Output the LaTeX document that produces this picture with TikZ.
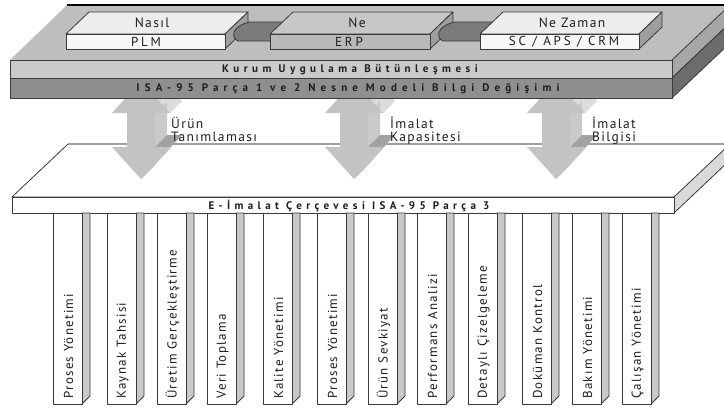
\documentclass[tikz,border=0pt]{standalone}
\usepackage{fontspec}
\setmainfont{PT Sans}
\newfontfamily\bandfont[LetterSpace=41]{PT Sans}
\newfontfamily\bandwidefont[LetterSpace=47]{PT Sans}
\newfontfamily\framefont[LetterSpace=40]{PT Sans}
\newfontfamily\labelfont[LetterSpace=10]{PT Sans}
\newfontfamily\slabfont[LetterSpace=22]{PT Sans}

\definecolor{platTop}{HTML}{BEBEBE}
\definecolor{bandA}{HTML}{CACACA}
\definecolor{bandB}{HTML}{8F8F8F}
\definecolor{sideA}{HTML}{A6A6A6}
\definecolor{sideB}{HTML}{6C6C6C}
\definecolor{boxLight}{HTML}{EDEDED}
\definecolor{boxLightFront}{HTML}{F6F6F6}
\definecolor{boxMid}{HTML}{C7C7C7}
\definecolor{boxMidFront}{HTML}{B9B9B9}
\definecolor{boxSide}{HTML}{9E9E9E}
\definecolor{linkGray}{HTML}{7B7B7B}
\definecolor{arrowFront}{HTML}{C3C3C3}
\definecolor{arrowLight}{HTML}{DCDCDC}
\definecolor{arrowDark}{HTML}{A2A2A2}
\definecolor{arrowMid}{HTML}{B4B4B4}
\definecolor{pillarSide}{HTML}{C9C9C9}
\definecolor{edge}{HTML}{3A3A3A}
\definecolor{inkDark}{HTML}{1E1E1E}

\tikzset{
  face/.style={draw=edge, line width=0.8pt, line join=round},
  bandtext/.style={inner sep=0pt, text=inkDark, font=\bandfont\bfseries\fontsize{11}{13}\selectfont},
  bandwide/.style={inner sep=0pt, text=inkDark, font=\bandwidefont\bfseries\fontsize{11}{13}\selectfont},
  frametext/.style={inner sep=0pt, text=inkDark, font=\framefont\bfseries\fontsize{11}{13}\selectfont},
  boxtop/.style={inner sep=0pt, text=inkDark, font=\labelfont\fontsize{13.5}{15}\selectfont},
  boxfront/.style={inner sep=0pt, text=inkDark, font=\slabfont\fontsize{13}{14}\selectfont},
  flowlabel/.style={inner sep=0pt, anchor=north west, align=left, text=inkDark,
    font=\labelfont\fontsize{13.5}{13}\selectfont},
  pillartext/.style={inner sep=0pt, anchor=west, rotate=90, text=inkDark,
    font=\labelfont\fontsize{13}{15}\selectfont},
}

% one hanging module of the framework: left edge, name, caption
\newcommand\pillar[3]{%
  \filldraw[face, fill=pillarSide] (#1+29,213) -- (#1+37,213) -- (#1+37,396) -- (#1+29,404) -- cycle;
  \filldraw[face, fill=white] (#1,213) rectangle (#1+29,404);
  \node[pillartext] (#2) at (#1+15.5,399) {#3};
}

% extruded double-headed block arrow centred on x = #1
\newcommand\blockarrow[1]{%
  \begin{scope}[shift={(#1,0)}]
    \fill[arrowLight] (0,81) -- (29,113) -- (41,101) -- (12,69) -- cycle;
    \fill[arrowLight!92!black] (14,113) -- (14,147) -- (26,135) -- (26,101) -- cycle;
    \fill[arrowMid] (29,147) -- (0,179) -- (12,167) -- (41,135) -- cycle;
    \fill[arrowDark] (14,147) -- (29,147) -- (41,135) -- (26,135) -- cycle;
    \fill[arrowFront] (0,81) -- (29,113) -- (14,113) -- (14,147) -- (29,147) -- (0,179)
      -- (-29,147) -- (-14,147) -- (-14,113) -- (-29,113) -- cycle;
  \end{scope}
}

\begin{document}
\begin{tikzpicture}[x=1pt, y=-1pt]
\useasboundingbox (0,0) rectangle (724,410);
\clip (0,0) rectangle (724,410);

% ---- lower platform: E-Manufacturing framework ----
\filldraw[face, fill=white] (12,197) -- (68,144) -- (740,144) -- (674,197) -- cycle;
\draw[gray!75, line width=1.3pt] (68,144) -- (740,144);
\filldraw[face, fill=pillarSide!70] (674,197) -- (730,144) -- (730,160) -- (674,213) -- cycle;
\filldraw[face, fill=white] (12,197) rectangle (674,213);
\node[frametext] (frame) at (349,205.5) {E-İmalat Çerçevesi ISA-95 Parça 3};

% ---- hanging modules ----
\pillar{53}{m1}{Proses Yönetimi}
\pillar{107}{m2}{Kaynak Tahsisi}
\pillar{157}{m3}{Üretim Gerçekleştirme}
\pillar{207}{m4}{Veri Toplama}
\pillar{263}{m5}{Kalite Yönetimi}
\pillar{317}{m6}{Proses Yönetimi}
\pillar{368}{m7}{Ürün Sevkiyat}
\pillar{417}{m8}{Performans Analizi}
\pillar{468}{m9}{Detaylı Çizelgeleme}
\pillar{522}{m10}{Doküman Kontrol}
\pillar{572}{m11}{Bakım Yönetimi}
\pillar{622}{m12}{Çalışan Yönetimi}

% ---- information flows between the two layers ----
\blockarrow{141}
\blockarrow{354}
\blockarrow{556}
\node[flowlabel] (flow1) at (171,116.5) {Ürün\\Tanımlaması};
\node[flowlabel] (flow2) at (390,116.5) {İmalat\\Kapasitesi};
\node[flowlabel] (flow3) at (592,116.5) {İmalat\\Bilgisi};

% ---- upper platform: enterprise integration ----
\fill[platTop] (10,60) -- (67,5) -- (740,5) -- (672,60) -- cycle;
\draw[black, line width=1.4pt] (67,5) -- (740,5);
\filldraw[face, fill=sideA] (672,60) -- (730,5) -- (730,23) -- (672,78) -- cycle;
\filldraw[face, fill=sideB] (672,78) -- (730,23) -- (730,43) -- (672,98) -- cycle;
\filldraw[face, fill=bandA] (10,60) rectangle (672,78);
\filldraw[face, fill=bandB] (10,78) rectangle (672,98);
\node[bandtext] (bandA) at (350,69.5) {Kurum Uygulama Bütünleşmesi};
\node[bandwide] (bandB) at (348,88.5) {ISA-95 Parça 1 ve 2 Nesne Modeli Bilgi Değişimi};

% ---- application slabs and their links ----
\filldraw[face, fill=boxLight] (66,34) -- (89,12) -- (248,12) -- (225,34) -- cycle;
\filldraw[face, fill=boxSide] (225,34) -- (248,12) -- (248,27) -- (225,49) -- cycle;
\filldraw[face, fill=boxLightFront] (66,34) rectangle (225,49);

\filldraw[face, fill=linkGray] (250,22) -- (300,22) -- (300,41) -- (238,41)
  .. controls (231,38) and (231,26) .. (250,22) -- cycle;

\filldraw[face, fill=boxMid] (270,34) -- (293,12) -- (453,12) -- (430,34) -- cycle;
\filldraw[face, fill=boxSide] (430,34) -- (453,12) -- (453,27) -- (430,49) -- cycle;
\filldraw[face, fill=boxMidFront] (270,34) rectangle (430,49);

\filldraw[face, fill=linkGray] (455,22) -- (505,22) -- (505,41) -- (443,41)
  .. controls (436,38) and (436,26) .. (455,22) -- cycle;

\filldraw[face, fill=boxLight] (480,34) -- (503,12) -- (662,12) -- (639,34) -- cycle;
\filldraw[face, fill=boxSide] (639,34) -- (662,12) -- (662,27) -- (639,49) -- cycle;
\filldraw[face, fill=boxLightFront] (480,34) rectangle (639,49);

\node[boxtop] (how) at (152,23) {Nasıl};
\node[boxfront] (plm) at (146,41.8) {PLM};
\node[boxtop] (what) at (357,23) {Ne};
\node[boxfront] (erp) at (349,41.8) {ERP};
\node[boxtop] (when) at (572,23) {Ne Zaman};
\node[boxfront] (scm) at (564,41.8) {SC / APS / CRM};
\end{tikzpicture}
\end{document}
